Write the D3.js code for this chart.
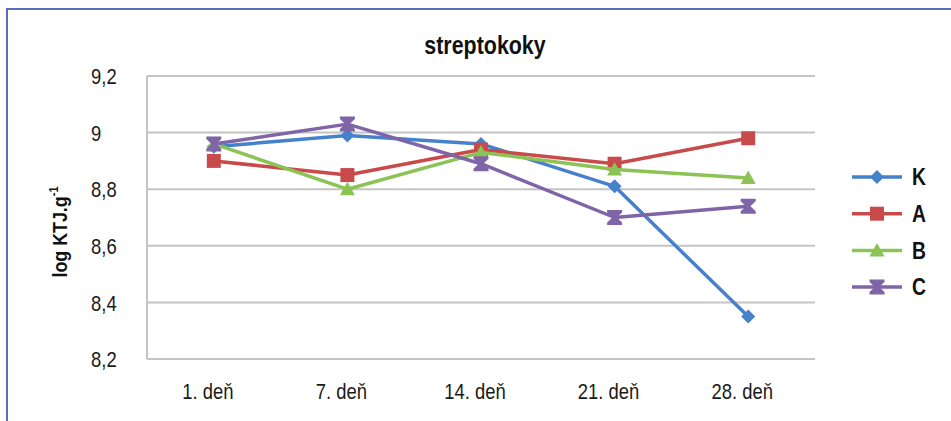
<!DOCTYPE html>
<html>
<head>
<meta charset="utf-8">
<script src="https://cdn.jsdelivr.net/npm/d3@7"></script>
<style>
  body { margin: 0; background: #fff; }
  svg { display: block; }
  text { font-family: "Liberation Sans", Arial, sans-serif; }
</style>
</head>
<body>
<svg id="chart" width="951" height="421"></svg>
<script>
const categories = ["1. deň", "7. deň", "14. deň", "21. deň", "28. deň"];
const seriesNames = ["K", "A", "B", "C"];
const valuesK = [8.95, 8.99, 8.96, 8.81, 8.35];
const valuesA = [8.90, 8.85, 8.94, 8.89, 8.98];
const valuesB = [8.96, 8.80, 8.93, 8.87, 8.84];
const valuesC = [8.96, 9.03, 8.89, 8.70, 8.74];
const yTicks = [8.2, 8.4, 8.6, 8.8, 9.0, 9.2];
const yTickLabels = ["8,2", "8,4", "8,6", "8,8", "9", "9,2"];
const colors = ["#4681cc", "#c94a4b", "#8cc355", "#8064a8"];
const markers = ["diamond", "square", "triangle", "hourglass"];

const series = seriesNames.map((n, i) => ({
  name: n, values: [valuesK, valuesA, valuesB, valuesC][i], color: colors[i], marker: markers[i]
}));

const svg = d3.select("#chart");
const W = 951, H = 421;
const plot = { left: 147, right: 815, top: 76, bottom: 359 };
const SX = 0.82; // horizontal condensing to mimic a condensed face

// outer border (top and left blue lines)
svg.append("line").attr("x1", 6).attr("x2", W).attr("y1", 9).attr("y2", 9)
  .attr("stroke", "#5b6db3").attr("stroke-width", 2);
svg.append("line").attr("x1", 7).attr("x2", 7).attr("y1", 8).attr("y2", H)
  .attr("stroke", "#5b6db3").attr("stroke-width", 2);

const x = d3.scaleBand().domain(categories).range([plot.left, plot.right]);
const y = d3.scaleLinear().domain([8.2, 9.2]).range([plot.bottom, plot.top]);

// gridlines
svg.append("g").selectAll("line").data(yTicks).join("line")
  .attr("x1", plot.left).attr("x2", plot.right)
  .attr("y1", d => y(d)).attr("y2", d => y(d))
  .attr("stroke", "#c4c4c4").attr("stroke-width", 2);

// left axis line
svg.append("line").attr("x1", plot.left).attr("x2", plot.left)
  .attr("y1", plot.top).attr("y2", plot.bottom)
  .attr("stroke", "#c4c4c4").attr("stroke-width", 2);

// y tick labels
svg.append("g").selectAll("text").data(yTicks).join("text")
  .attr("transform", d => `translate(91,${y(d)}) scale(${SX},1)`).attr("dy", "0.36em")
  .attr("font-size", 22.5).attr("fill", "#1a1a1a")
  .text((d, i) => yTickLabels[i]);

// x labels
svg.append("g").selectAll("text").data(categories).join("text")
  .attr("transform", d => `translate(${x(d) + x.bandwidth() / 2 - 6},399) scale(${SX},1)`)
  .attr("text-anchor", "middle").attr("font-size", 22.5).attr("fill", "#1a1a1a")
  .text(d => d);

// title
svg.append("text").attr("transform", `translate(485,54) scale(0.84,1)`).attr("text-anchor", "middle")
  .attr("font-size", 25.5).attr("font-weight", "bold").attr("fill", "#111")
  .text("streptokoky");

// y axis title
const yt = svg.append("text").attr("transform", "translate(67,232) rotate(-90) scale(0.85,1)")
  .attr("text-anchor", "middle").attr("font-size", 21).attr("font-weight", "bold").attr("fill", "#111");
yt.append("tspan").text("log KTJ.g");
yt.append("tspan").attr("dy", -9).attr("font-size", 13).text("-1");

function markerPath(type, s) {
  switch (type) {
    case "diamond": return `M0,${-s}L${s},0L0,${s}L${-s},0Z`;
    case "square": return `M${-s},${-s}H${s}V${s}H${-s}Z`;
    case "triangle": return `M0,${-s}L${s},${s*0.8}H${-s}Z`;
    case "hourglass": return `M${-s},${-s}H${s}V${-s+2.5}L${s*0.3},0L${s},${s-2.5}V${s}H${-s}V${s-2.5}L${-s*0.3},0L${-s},${-s+2.5}Z`;
  }
}
const markerSize = { diamond: 7, square: 7, triangle: 7.5, hourglass: 7.5 };

const line = d3.line().x((d, i) => x(categories[i]) + x.bandwidth() / 2).y(d => y(d));

series.forEach(s => {
  svg.append("path").datum(s.values).attr("d", line)
    .attr("fill", "none").attr("stroke", s.color).attr("stroke-width", 3.5)
    .attr("stroke-linejoin", "round");
  svg.append("g").selectAll("path").data(s.values).join("path")
    .attr("transform", (d, i) => `translate(${x(categories[i]) + x.bandwidth() / 2},${y(d)})`)
    .attr("d", markerPath(s.marker, markerSize[s.marker]))
    .attr("fill", s.color);
});

// legend
const legend = svg.append("g");
series.forEach((s, i) => {
  const ly = 177 + i * 36.7;
  legend.append("line").attr("x1", 852).attr("x2", 902).attr("y1", ly).attr("y2", ly)
    .attr("stroke", s.color).attr("stroke-width", 3.5);
  legend.append("path").attr("transform", `translate(877,${ly})`)
    .attr("d", markerPath(s.marker, markerSize[s.marker]))
    .attr("fill", s.color);
  legend.append("text").attr("transform", `translate(912,${ly}) scale(0.84,1)`).attr("dy", "0.36em")
    .attr("font-size", 23).attr("font-weight", "bold").attr("fill", "#111").text(s.name);
});
</script>
</body>
</html>
